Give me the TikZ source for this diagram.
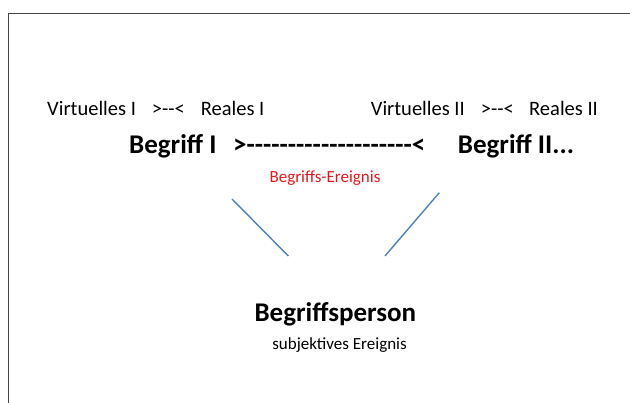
\documentclass[tikz,border=0pt]{standalone}
\usepackage{fontspec}
\newfontfamily\slidefont{Carlito}
\usetikzlibrary{positioning}
\definecolor{linkblue}{RGB}{79,129,189}
\definecolor{eventred}{RGB}{228,24,30}
\definecolor{framegray}{RGB}{70,70,70}

\begin{document}
\begin{tikzpicture}[x=1pt, y=-1pt,
    txt/.style={inner sep=0pt, anchor=base west, font=\slidefont\fontsize{20.5}{24}\selectfont},
    big/.style={inner sep=0pt, anchor=base west, font=\slidefont\bfseries\fontsize{27}{32}\selectfont},
    small/.style={inner sep=0pt, anchor=base, font=\slidefont\fontsize{17}{20}\selectfont},
    link/.style={draw=linkblue, line width=1.4pt}
]
\useasboundingbox (0,0) rectangle (630,403);

% slide frame (only top and left edge visible)
\draw[framegray, line width=1.5pt] (8.5,403) -- (8.5,13.5) -- (630,13.5);

% virtual / real pairs
\node[txt] (v1) at (47,115.5) {Virtuelles I};
\node[txt] (c1) at (151.7,115.5) {>--<};
\node[txt] (r1) at (200.7,115.5) {Reales I};
\node[txt] (v2) at (370.7,115.5) {Virtuelles II};
\node[txt] (c2) at (480.7,115.5) {>--<};
\node[txt] (r2) at (529,115.5) {Reales II};

% concepts and the event between them
\node[big] (b1) at (129,154) {Begriff I};
\node[big] (bond) at (233,154) {>--------------------<};
\node[big] (b2) at (457.7,154) {Begriff II...};
\node[small, text=eventred] (ev) at (325,183) {Begriffs-Ereignis};

% person below
\node[big, anchor=base] (bp) at (335.4,321.7) {Begriffsperson};
\node[small] (se) at (339.5,349.3) {subjektives Ereignis};

% links towards the person
\coordinate (la) at (232,199);
\coordinate (lb) at (288.3,256);
\coordinate (ra) at (439.3,192.7);
\coordinate (rb) at (385,256);
\draw[link] (la) -- (lb);
\draw[link] (ra) -- (rb);

\end{tikzpicture}
\end{document}
